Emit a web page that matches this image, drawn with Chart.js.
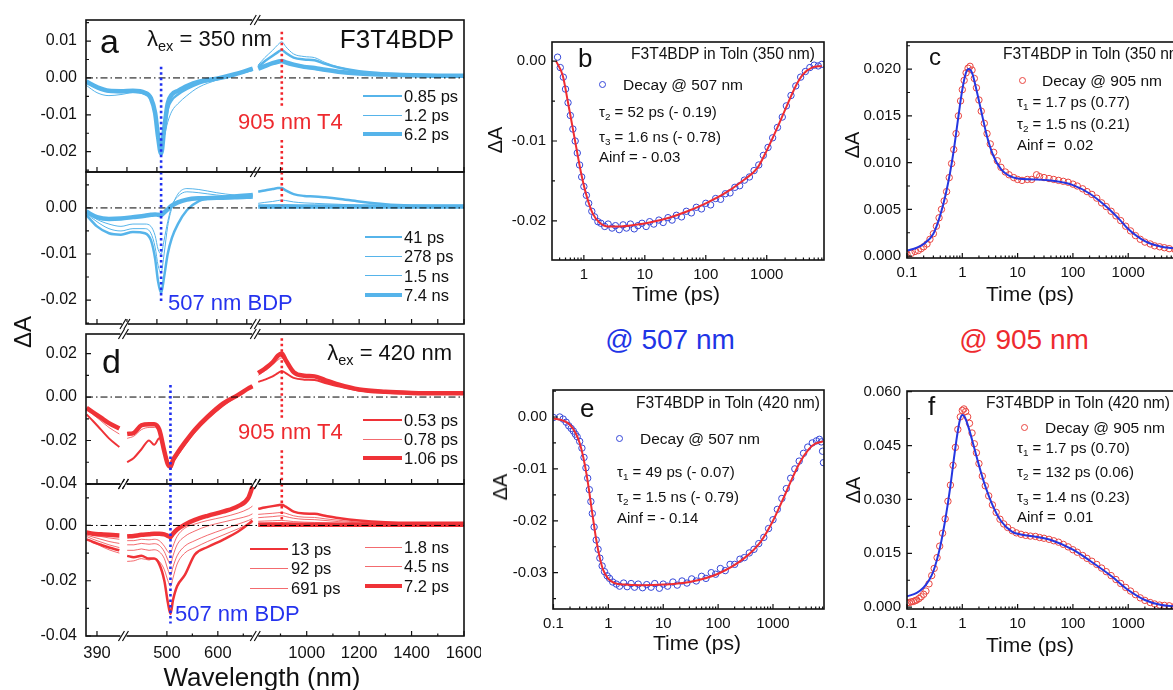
<!DOCTYPE html>
<html>
<head>
<meta charset="utf-8">
<script src="https://cdn.jsdelivr.net/npm/chart.js"></script>
<style>
html, body { margin: 0; padding: 0; background: #fff; overflow: hidden; width: 1173px; height: 690px; }
body { position: relative; font-family: "Liberation Sans", Arial, sans-serif; }
canvas { position: absolute; }
.t { position: absolute; white-space: nowrap; line-height: 1; color: #111; }
.s { font-size: 0.66em; position: relative; top: 0.32em; }
.k { position: absolute; }
.dot { position: absolute; width: 7px; height: 7px; border-radius: 50%; border: 1.2px solid; box-sizing: border-box; }
</style>
</head>
<body>
<script>
// ---- panel a / d: transient spectra (wavelength in nm, dA) ----
const waveA = [382, 400, 420, 440, 460, 480, 490, 497, 502, 507, 512, 518, 525, 535, 550, 570, 600, 630, 660, null,
    815, 840, 870, 890, 905, 920, 950, 990, 1030, 1070, 1120, 1200, 1300, 1400, 1500, 1600];
const a085ps = [-0.0012, -0.0025, -0.0036, -0.0038, -0.0036, -0.0042, -0.0055, -0.0090, -0.0150, -0.0190, -0.0150, -0.0085, -0.0060, -0.0045, -0.0030, -0.0015, -0.0003, 0.0010, 0.0022, null,
    0.0030, 0.0045, 0.0060, 0.0070, 0.0076, 0.0068, 0.0055, 0.0050, 0.0048, 0.0038, 0.0028, 0.0018, 0.0012, 0.0009, 0.0007, 0.0006];
const a12ps = [-0.0020, -0.0040, -0.0048, -0.0045, -0.0040, -0.0046, -0.0060, -0.0095, -0.0145, -0.0180, -0.0160, -0.0120, -0.0090, -0.0070, -0.0048, -0.0025, -0.0006, 0.0008, 0.0020, null,
    0.0035, 0.0055, 0.0075, 0.0090, 0.0098, 0.0085, 0.0065, 0.0058, 0.0055, 0.0042, 0.0030, 0.0018, 0.0012, 0.0009, 0.0007, 0.0006];
const a62ps = [-0.0010, -0.0025, -0.0035, -0.0036, -0.0035, -0.0040, -0.0055, -0.0095, -0.0160, -0.0205, -0.0140, -0.0070, -0.0045, -0.0035, -0.0022, -0.0010, -0.0002, 0.0010, 0.0025, null,
    0.0025, 0.0032, 0.0040, 0.0044, 0.0046, 0.0042, 0.0036, 0.0030, 0.0027, 0.0022, 0.0017, 0.0012, 0.0009, 0.0007, 0.0006, 0.0006];
const a41ps = [-0.0015, -0.0040, -0.0055, -0.0058, -0.0052, -0.0055, -0.0070, -0.0110, -0.0160, -0.0185, -0.0150, -0.0100, -0.0065, -0.0035, -0.0005, 0.0015, 0.0022, 0.0027, 0.0030, null,
    0.0035, 0.0038, 0.0041, 0.0043, 0.0043, 0.0038, 0.0030, 0.0026, 0.0025, 0.0023, 0.0020, 0.0014, 0.0008, 0.0005, 0.0004, 0.0004];
const a278ps = [-0.0012, -0.0030, -0.0045, -0.0050, -0.0045, -0.0045, -0.0055, -0.0085, -0.0125, -0.0140, -0.0100, -0.0040, 0.0000, 0.0030, 0.0042, 0.0040, 0.0033, 0.0028, 0.0027, null,
    0.0010, 0.0012, 0.0014, 0.0016, 0.0017, 0.0016, 0.0013, 0.0011, 0.0010, 0.0009, 0.0008, 0.0006, 0.0005, 0.0004, 0.0003, 0.0003];
const a15ns = [-0.0010, -0.0025, -0.0035, -0.0040, -0.0035, -0.0035, -0.0040, -0.0060, -0.0090, -0.0100, -0.0070, -0.0030, 0.0005, 0.0025, 0.0035, 0.0033, 0.0028, 0.0025, 0.0025, null,
    0.0004, 0.0005, 0.0006, 0.0007, 0.0007, 0.0007, 0.0006, 0.0005, 0.0005, 0.0004, 0.0004, 0.0003, 0.0003, 0.0002, 0.0002, 0.0002];
const a74ns = [-0.0008, -0.0020, -0.0024, -0.0023, -0.0020, -0.0017, -0.0015, -0.0014, -0.0015, -0.0016, -0.0010, -0.0003, 0.0005, 0.0012, 0.0018, 0.0021, 0.0022, 0.0023, 0.0025, null,
    0.0003, 0.0003, 0.0003, 0.0003, 0.0003, 0.0003, 0.0003, 0.0003, 0.0003, 0.0003, 0.0003, 0.0003, 0.0003, 0.0003, 0.0003, 0.0003];

const waveD = [377, 385, 395, 405, 418, null,
    422, 435, 450, 465, 475, 485, 495, 502, 507, 512, 520, 535, 555, 580, 610, 640, 660, 668, null,
    815, 840, 870, 890, 905, 920, 950, 990, 1030, 1070, 1120, 1200, 1300, 1400, 1500, 1600];
const d053ps = [-0.008, -0.011, -0.015, -0.019, -0.023, null,
    -0.030, -0.028, -0.024, -0.020, -0.022, -0.019, -0.025, -0.030, -0.033, -0.030, -0.027, -0.022, -0.016, -0.010, -0.004, 0.001, 0.004, 0.005, null,
    0.007, 0.008, 0.0095, 0.0110, 0.0120, 0.0110, 0.0088, 0.0080, 0.0078, 0.0065, 0.0050, 0.0030, 0.0020, 0.0016, 0.0015, 0.0015];
const d078ps = [-0.006, -0.008, -0.011, -0.014, -0.017, null,
    -0.019, -0.018, -0.015, -0.014, -0.014, -0.016, -0.025, -0.030, -0.032, -0.029, -0.026, -0.021, -0.015, -0.009, -0.003, 0.001, 0.0035, 0.0045, null,
    0.010, 0.012, 0.015, 0.017, 0.018, 0.016, 0.011, 0.0095, 0.0092, 0.0075, 0.0055, 0.0033, 0.0022, 0.0018, 0.0016, 0.0016];
const d106ps = [-0.005, -0.007, -0.0095, -0.012, -0.0145, null,
    -0.017, -0.0165, -0.013, -0.0125, -0.0125, -0.015, -0.025, -0.031, -0.032, -0.029, -0.026, -0.021, -0.015, -0.009, -0.003, 0.001, 0.004, 0.005, null,
    0.011, 0.013, 0.016, 0.019, 0.020, 0.017, 0.0115, 0.0098, 0.0095, 0.0078, 0.0058, 0.0035, 0.0024, 0.0019, 0.0017, 0.0017];
const d13ps = [-0.005, -0.006, -0.007, -0.008, -0.009, null,
    -0.011, -0.0115, -0.011, -0.012, -0.012, -0.014, -0.020, -0.028, -0.032, -0.027, -0.022, -0.018, -0.0105, -0.0078, -0.0052, -0.0022, 0.0005, 0.0018, null,
    0.0060, 0.0065, 0.0070, 0.0073, 0.0075, 0.0068, 0.0050, 0.0043, 0.0042, 0.0035, 0.0027, 0.0018, 0.0012, 0.0010, 0.0010, 0.0010];
const d92ps = [-0.005, -0.0062, -0.0075, -0.0088, -0.0100, null,
    -0.0130, -0.0128, -0.0120, -0.0125, -0.0120, -0.0130, -0.0160, -0.0200, -0.0220, -0.0190, -0.0140, -0.0100, -0.0080, -0.0058, -0.0035, -0.0012, 0.0005, 0.0010, null,
    0.0040, 0.0042, 0.0044, 0.0046, 0.0047, 0.0044, 0.0035, 0.0030, 0.0029, 0.0024, 0.0019, 0.0012, 0.0008, 0.0007, 0.0007, 0.0007];
const d691ps = [-0.004, -0.005, -0.006, -0.007, -0.008, null,
    -0.0090, -0.0090, -0.0085, -0.0090, -0.0088, -0.0095, -0.0120, -0.0160, -0.0180, -0.0150, -0.0110, -0.0075, -0.0055, -0.0035, -0.0015, 0.0005, 0.0018, 0.0025, null,
    0.0028, 0.0030, 0.0032, 0.0034, 0.0035, 0.0032, 0.0026, 0.0022, 0.0021, 0.0018, 0.0014, 0.0009, 0.0006, 0.0005, 0.0005, 0.0005];
const d18ns = [-0.0035, -0.0042, -0.005, -0.0058, -0.0065, null,
    -0.0070, -0.0070, -0.0065, -0.0068, -0.0066, -0.0072, -0.0095, -0.0125, -0.0140, -0.0110, -0.0070, -0.0040, -0.0020, -0.0002, 0.0012, 0.0025, 0.0035, 0.0042, null,
    0.0015, 0.0016, 0.0017, 0.0018, 0.0018, 0.0017, 0.0014, 0.0012, 0.0011, 0.0010, 0.0008, 0.0005, 0.0004, 0.0003, 0.0003, 0.0003];
const d45ns = [-0.003, -0.0035, -0.004, -0.0045, -0.005, null,
    -0.0055, -0.0055, -0.0050, -0.0052, -0.0050, -0.0055, -0.0075, -0.0095, -0.0100, -0.0075, -0.0040, -0.0010, 0.0005, 0.0018, 0.0030, 0.0045, 0.0060, 0.0070, null,
    0.0008, 0.0009, 0.0010, 0.0010, 0.0010, 0.0010, 0.0008, 0.0007, 0.0007, 0.0006, 0.0005, 0.0004, 0.0003, 0.0003, 0.0003, 0.0003];
const d72 = [-0.0025, -0.003, -0.0032, -0.0034, -0.0036, null,
    -0.0040, -0.0038, -0.0034, -0.0032, -0.0030, -0.0030, -0.0032, -0.0038, -0.0042, -0.0030, -0.0015, 0.0003, 0.0020, 0.0035, 0.0050, 0.0070, 0.0100, 0.0140, null,
    0.0003, 0.0003, 0.0003, 0.0003, 0.0003, 0.0003, 0.0003, 0.0003, 0.0003, 0.0003, 0.0003, 0.0003, 0.0003, 0.0003, 0.0003, 0.0003];

const waveTicksA = [400, 450, 500, 550, 600, 650, 900, 1000, 1100, 1200, 1300, 1400, 1500, 1600];
const waveTicksD = [390, 500, 550, 600, 650, 900, 1000, 1100, 1200, 1300, 1400, 1500, 1600];
const waveLabelsD = ['390', '500', '', '600', '', '', '1000', '', '1200', '', '1400', '', '1600'];

// ---- panels b, c, e, f: kinetics (time in ps, dA) ----
const bTime = [0.37, 0.41, 0.46, 0.5, 0.55, 0.6, 0.66, 0.72, 0.78, 0.85, 0.92, 1.0, 1.1, 1.2, 1.35, 1.5, 1.7, 1.9, 2.2, 2.5,
    2.9, 3.3, 3.8, 4.4, 5, 5.8, 6.7, 7.7, 9, 10.5, 12, 14, 17, 20, 24, 28, 33, 40, 48, 58,
    70, 85, 100, 120, 145, 175, 210, 250, 300, 360, 430, 520, 620, 740, 880, 1050, 1250, 1500, 1800, 2100,
    2500, 3000, 3600, 4300, 5100, 6000, 7000, 8000];
const bDecay = [0.0005, -0.0008, -0.0020, -0.0035, -0.0052, -0.0068, -0.0085, -0.0100, -0.0115, -0.0130,
    -0.0145, -0.0157, -0.0168, -0.0178, -0.0188, -0.0195, -0.0201, -0.0203, -0.0207, -0.0204,
    -0.0209, -0.0206, -0.0211, -0.0205, -0.0209, -0.0204, -0.0210, -0.0206, -0.0203, -0.0207,
    -0.0201, -0.0204, -0.0199, -0.0202, -0.0196, -0.0199, -0.0193, -0.0195, -0.0188, -0.0190,
    -0.0183, -0.0185, -0.0178, -0.0180, -0.0172, -0.0173, -0.0166, -0.0165, -0.0158, -0.0156,
    -0.0149, -0.0145, -0.0137, -0.0130, -0.0118, -0.0108, -0.0096, -0.0083, -0.0070, -0.0056,
    -0.0043, -0.0031, -0.0020, -0.0013, -0.0008, -0.0005, -0.0006, -0.0004];
const bFitTime = [0.35, 0.45, 0.55, 0.65, 0.75, 0.9, 1.1, 1.4, 1.8, 2.5, 4, 7, 12, 25, 50, 100, 200, 400, 700, 1000, 1500, 2000, 3000, 4000, 5500, 8000];
const bFit = [0.0000, -0.0018, -0.0052, -0.0082, -0.0108, -0.0140, -0.0168, -0.0191, -0.0202, -0.0207, -0.0207, -0.0205, -0.0202,
    -0.0196, -0.0188, -0.0178, -0.0166, -0.0150, -0.0134, -0.0112, -0.0083, -0.0061, -0.0031, -0.0016, -0.0008, -0.0006];

const cTime = [0.1, 0.12, 0.14, 0.16, 0.18, 0.2, 0.23, 0.26, 0.3, 0.34, 0.38, 0.42, 0.47, 0.52, 0.58, 0.64, 0.7, 0.77, 0.85, 0.93,
    1.0, 1.08, 1.17, 1.27, 1.38, 1.5, 1.65, 1.8, 2.0, 2.2, 2.5, 2.8, 3.2, 3.7, 4.3, 5, 6, 7, 8.5, 10,
    12, 15, 18, 22, 25, 30, 37, 45, 55, 67, 82, 100, 120, 150, 180, 220, 270, 330, 400, 490,
    600, 730, 900, 1100, 1350, 1650, 2000, 2500, 3000, 3700, 4500, 5500, 7000];
const cDecay = [0.0002, 0.0003, 0.0005, 0.0006, 0.0008, 0.0010, 0.0013, 0.0018, 0.0024, 0.0032,
    0.0041, 0.0050, 0.0059, 0.0069, 0.0084, 0.0099, 0.0114, 0.0131, 0.0150, 0.0166,
    0.0178, 0.0188, 0.0196, 0.0201, 0.0203, 0.0199, 0.0190, 0.0180, 0.0167, 0.0155,
    0.0142, 0.0131, 0.0120, 0.0111, 0.0102, 0.0095, 0.0090, 0.0087, 0.0084, 0.0082,
    0.0081, 0.0082, 0.0082, 0.0087, 0.0085, 0.0084, 0.0083, 0.0082, 0.0081, 0.0080,
    0.0079, 0.0077, 0.0075, 0.0072, 0.0069, 0.0066, 0.0062, 0.0057, 0.0053, 0.0048,
    0.0043, 0.0038, 0.0032, 0.0027, 0.0022, 0.0018, 0.0015, 0.0013, 0.0011, 0.0010,
    0.0009, 0.0008, 0.0007];
const cFitTime = [0.1, 0.15, 0.2, 0.3, 0.4, 0.5, 0.6, 0.7, 0.8, 0.9, 1.0, 1.15, 1.3, 1.5, 1.8, 2.2, 2.8, 3.5, 5, 7, 10, 20, 50, 100, 200, 400, 700, 1000, 2000, 4000, 9000];
const cFit = [0.0006, 0.0009, 0.0013, 0.0024, 0.0044, 0.0066, 0.0089, 0.0113, 0.0138, 0.0160, 0.0178, 0.0195, 0.0200, 0.0196, 0.0178, 0.0155,
    0.0128, 0.0110, 0.0093, 0.0086, 0.0083, 0.0082, 0.0080, 0.0076, 0.0067, 0.0053, 0.0039, 0.0029, 0.0016, 0.0010, 0.0008];

const eTime = [0.1, 0.13, 0.15, 0.17, 0.19, 0.21, 0.23, 0.25, 0.27, 0.3, 0.33, 0.36, 0.39, 0.42, 0.45, 0.48, 0.51, 0.55, 0.6, 0.65,
    0.7, 0.77, 0.85, 0.95, 1.05, 1.2, 1.4, 1.6, 1.9, 2.2, 2.6, 3, 3.5, 4.2, 5, 6, 7, 8.5, 10, 12,
    15, 18, 22, 27, 33, 40, 50, 60, 75, 90, 110, 135, 165, 200, 250, 300, 370, 450, 550, 680,
    830, 1000, 1200, 1450, 1750, 2100, 2500, 3000, 3600, 4300, 5200, 6200, 7000, 7600, 8000, 8300];
const eDecay = [-0.0001, 0.0000, -0.0004, -0.0010, -0.0017, -0.0022, -0.0027, -0.0033, -0.0038, -0.0047,
    -0.0060, -0.0078, -0.0098, -0.0118, -0.0140, -0.0163, -0.0186, -0.0212, -0.0237, -0.0255,
    -0.0272, -0.0287, -0.0298, -0.0306, -0.0311, -0.0318, -0.0322, -0.0326, -0.0320, -0.0327,
    -0.0321, -0.0328, -0.0322, -0.0329, -0.0323, -0.0328, -0.0321, -0.0330, -0.0322, -0.0326,
    -0.0318, -0.0324, -0.0316, -0.0320, -0.0312, -0.0316, -0.0307, -0.0311, -0.0300, -0.0303,
    -0.0292, -0.0296, -0.0284, -0.0284, -0.0274, -0.0271, -0.0262, -0.0255, -0.0244, -0.0232,
    -0.0215, -0.0198, -0.0178, -0.0157, -0.0138, -0.0118, -0.0100, -0.0085, -0.0070, -0.0058,
    -0.0050, -0.0046, -0.0043, -0.0048, -0.0066, -0.0088];
const eFitTime = [0.1, 0.15, 0.2, 0.25, 0.3, 0.35, 0.4, 0.45, 0.5, 0.55, 0.6, 0.7, 0.8, 1, 1.3, 2, 4, 10, 30, 100, 300, 600, 1000, 1500, 2000, 3000, 4500, 6000, 8300];
const eFit = [-0.0003, -0.0007, -0.0015, -0.0030, -0.0050, -0.0078, -0.0110, -0.0145, -0.0180, -0.0210, -0.0236, -0.0272, -0.0294, -0.0312, -0.0320,
    -0.0323, -0.0324, -0.0323, -0.0318, -0.0302, -0.0272, -0.0240, -0.0200, -0.0160, -0.0130, -0.0090, -0.0062, -0.0051, -0.0047];

const fTime = [0.1, 0.11, 0.12, 0.13, 0.14, 0.15, 0.165, 0.18, 0.2, 0.22, 0.25, 0.28, 0.31, 0.35, 0.39, 0.44, 0.49, 0.55, 0.61, 0.68,
    0.75, 0.83, 0.92, 1.0, 1.07, 1.15, 1.25, 1.35, 1.5, 1.65, 1.8, 2.0, 2.3, 2.6, 3.0, 3.5, 4.1, 4.8, 5.6, 6.6,
    8, 9.5, 11.5, 14, 17, 21, 25, 30, 37, 45, 55, 67, 82, 100, 120, 150, 180, 220, 270, 330,
    400, 490, 600, 730, 900, 1100, 1350, 1650, 2000, 2500, 3000, 3700, 4500, 5500, 7000];
const fDecay = [0.0012, 0.0013, 0.0015, 0.0016, 0.0018, 0.0020, 0.0024, 0.0029, 0.0036, 0.0045,
    0.0065, 0.0088, 0.0108, 0.0138, 0.0170, 0.0206, 0.0246, 0.0295, 0.0340, 0.0395,
    0.0445, 0.0495, 0.0530, 0.0548, 0.0552, 0.0545, 0.0530, 0.0512, 0.0485, 0.0455,
    0.0430, 0.0400, 0.0365, 0.0338, 0.0310, 0.0285, 0.0264, 0.0245, 0.0232, 0.0222,
    0.0213, 0.0207, 0.0203, 0.0200, 0.0198, 0.0197, 0.0194, 0.0192, 0.0189, 0.0185,
    0.0181, 0.0175, 0.0168, 0.0160, 0.0153, 0.0144, 0.0136, 0.0128, 0.0119, 0.0109,
    0.0099, 0.0088, 0.0077, 0.0066, 0.0055, 0.0045, 0.0035, 0.0026, 0.0019, 0.0013,
    0.0009, 0.0006, 0.0005, 0.0004, 0.0003];
const fFitTime = [0.1, 0.15, 0.2, 0.25, 0.3, 0.4, 0.5, 0.6, 0.7, 0.8, 0.9, 1.0, 1.1, 1.3, 1.6, 2, 2.5, 3.5, 5, 8, 12, 20, 40, 100, 200, 500, 1000, 2000, 4000, 9000];
const fFit = [0.0030, 0.0040, 0.0055, 0.0075, 0.0100, 0.0170, 0.0250, 0.0330, 0.0410, 0.0475, 0.0520, 0.0535, 0.0530, 0.0500, 0.0450, 0.0395,
    0.0345, 0.0285, 0.0240, 0.0210, 0.0202, 0.0197, 0.0187, 0.0160, 0.0130, 0.0086, 0.0048, 0.0020, 0.0006, 0.0002];

const timeDecades = [0.1, 1, 10, 100, 1000];
const timeLabelsB = [1, 10, 100, 1000];
const timeLabels = [0.1, 1, 10, 100, 1000];

// ---- styling ----
Chart.defaults.font.family = '"Liberation Sans", Arial, sans-serif';
Chart.defaults.color = '#111';
const SKY = '#56b4ea', RED = '#ef3237', RED_T = 'rgba(239,50,55,0.72)';
const DOT_BLUE = '#2030f0', DOT_RED = '#f2262c';
const PT_BLUE = '#3446d8', PT_RED = '#e9443f';

// broken wavelength axes: axis unit ~ pixels from plot left
function mapA(w) { return w < 750 ? 11 + (w - 400) * 0.6 : 221 + (w - 1000) * 0.2625; }
function mapD(w) {
    if (w < 420) return 11 + (w - 390) * 0.8;
    if (w < 750) return 81 + (w - 500) * 0.51;
    return 221 + (w - 1000) * 0.2625;
}

function pts(xs, ys, map) {
    let last = 0;
    return xs.map((x, i) => {
        if (x === null) return { x: last, y: null };
        last = map ? map(x) : x;
        return { x: last, y: ys[i] };
    });
}

function fmt(v, d) {
    let s = v.toFixed(d);
    if (parseFloat(s) === 0) s = (0).toFixed(d);
    return s;
}

function withMinors(major, min, max) {
    const step = major[1] - major[0];
    const out = [];
    for (let v = major[0] - step; v <= max + 1e-9; v += step / 2) {
        if (v >= min - 1e-9) out.push({ value: v, big: major.some(m => Math.abs(m - v) < 1e-9) });
    }
    return out;
}

// frame, inward ticks, reference lines and axis breaks
function deco(cfg) {
    return {
        id: 'deco',
        afterDatasetsDraw(chart) {
            const ctx = chart.ctx, a = chart.chartArea, xs = chart.scales.x, ys = chart.scales.y;
            const w = a.right - a.left, h = a.bottom - a.top;
            ctx.save();
            ctx.beginPath(); ctx.rect(a.left, a.top, w, h); ctx.clip();
            if (cfg.zero) {
                const y0 = ys.getPixelForValue(0);
                ctx.setLineDash([7, 3, 1.5, 3]); ctx.lineWidth = 1; ctx.strokeStyle = '#000';
                ctx.beginPath(); ctx.moveTo(a.left, y0); ctx.lineTo(a.right, y0); ctx.stroke();
            }
            (cfg.vlines || []).forEach(v => {
                const x = xs.getPixelForValue(v.x);
                ctx.setLineDash([2.5, 3]); ctx.lineWidth = 2.6; ctx.strokeStyle = v.color;
                v.spans.forEach(sp => {
                    const y1 = sp[0] === null ? a.top : ys.getPixelForValue(sp[0]);
                    const y2 = sp[1] === null ? a.bottom : ys.getPixelForValue(sp[1]);
                    ctx.beginPath(); ctx.moveTo(x, y1); ctx.lineTo(x, y2); ctx.stroke();
                });
            });
            ctx.restore();

            ctx.save();
            ctx.strokeStyle = '#111'; ctx.lineWidth = 1.6;
            ctx.strokeRect(a.left, a.top, w, h);
            ctx.lineWidth = 1.2;
            ctx.beginPath();
            xs.ticks.forEach(t => {
                const p = xs.getPixelForValue(t.value);
                if (p < a.left - 0.5 || p > a.right + 0.5) return;
                const len = t.big ? 5 : 2.5;
                ctx.moveTo(p, a.bottom); ctx.lineTo(p, a.bottom - len);
            });
            ys.ticks.forEach(t => {
                const p = ys.getPixelForValue(t.value);
                const len = t.big ? 5 : 3;
                ctx.moveTo(a.left, p); ctx.lineTo(a.left + len, p);
            });
            ctx.stroke();
            (cfg.breaks || []).forEach(br => {
                const x = xs.getPixelForValue(br.x);
                br.edges.forEach(e => {
                    const y = e === 'top' ? a.top : a.bottom;
                    ctx.fillStyle = '#fff'; ctx.fillRect(x - 3, y - 2, 6, 4);
                    ctx.beginPath();
                    [-2, 2].forEach(o => { ctx.moveTo(x + o - 3, y + 5); ctx.lineTo(x + o + 3, y - 5); });
                    ctx.lineWidth = 1.2; ctx.stroke();
                });
            });
            ctx.restore();
        }
    };
}

function place(box, m, config) {
    const c = document.createElement('canvas');
    const w = m[3] + (box.r - box.l) + m[1];
    const h = m[0] + (box.b - box.t) + m[2];
    c.width = w; c.height = h;
    c.style.left = (box.l - m[3]) + 'px';
    c.style.top = (box.t - m[0]) + 'px';
    c.style.width = w + 'px'; c.style.height = h + 'px';
    document.body.appendChild(c);
    config.options.layout = { padding: { top: m[0], right: m[1], left: 0, bottom: 0 } };
    config.options.scales.x.afterFit = s => { s.height = m[2]; s.paddingLeft = 0; s.paddingRight = 0; };
    config.options.scales.y.afterFit = s => { s.width = m[3]; s.paddingTop = 0; s.paddingBottom = 0; };
    return new Chart(c, config);
}

function yAxis(min, max, major, digits, size, pad) {
    return {
        type: 'linear', min, max,
        grid: { display: false, drawTicks: false }, border: { display: false },
        afterBuildTicks: s => { s.ticks = withMinors(major, min, max); },
        ticks: {
            autoSkip: false, padding: pad, font: { size },
            callback: v => major.some(m => Math.abs(m - v) < 1e-9) ? fmt(v, digits) : ''
        }
    };
}

// ---- wavelength panels ----
function spectrum(box, m, map, wave, series, yr, yMajor, ticks, labels, cfg) {
    const showX = labels.some(l => l !== '');
    return place(box, m, {
        type: 'line',
        data: {
            datasets: series.map(s => ({
                data: pts(wave, s.v, map), borderColor: s.c, borderWidth: s.w,
                pointRadius: 0, spanGaps: false, cubicInterpolationMode: 'monotone'
            }))
        },
        options: {
            responsive: false, animation: false, events: [],
            plugins: { legend: { display: false }, tooltip: { enabled: false } },
            scales: {
                x: {
                    type: 'linear', min: 0, max: 378.5,
                    grid: { display: false, drawTicks: false }, border: { display: false },
                    afterBuildTicks: s => { s.ticks = ticks.map((w, i) => ({ value: map(w), big: !showX || labels[i] !== '' })); },
                    ticks: { display: showX, autoSkip: false, maxRotation: 0, padding: 8, font: { size: 16.5 }, callback: (v, i) => labels[i] }
                },
                y: yAxis(yr[0], yr[1], yMajor, 2, 16, 9)
            }
        },
        plugins: [deco(cfg)]
    });
}

const seriesA1 = [
    { name: '0.85 ps', v: a085ps, w: 2.5, c: SKY },
    { name: '1.2 ps', v: a12ps, w: 1, c: SKY },
    { name: '6.2 ps', v: a62ps, w: 4.5, c: SKY }
];
const seriesA2 = [
    { name: '41 ps', v: a41ps, w: 2.5, c: SKY },
    { name: '278 ps', v: a278ps, w: 1, c: SKY },
    { name: '1.5 ns', v: a15ns, w: 1, c: SKY },
    { name: '7.4 ns', v: a74ns, w: 4.5, c: SKY }
];
const seriesD1 = [
    { name: '0.53 ps', v: d053ps, w: 2, c: RED },
    { name: '0.78 ps', v: d078ps, w: 1, c: RED_T },
    { name: '1.06 ps', v: d106ps, w: 4.5, c: RED }
];
const seriesD2 = [
    { name: '13 ps', v: d13ps, w: 2.5, c: RED },
    { name: '92 ps', v: d92ps, w: 1, c: RED_T },
    { name: '691 ps', v: d691ps, w: 1, c: RED_T },
    { name: '1.8 ns', v: d18ns, w: 1, c: RED_T },
    { name: '4.5 ns', v: d45ns, w: 1, c: RED_T },
    { name: '7.2 ps', v: d72, w: 4.5, c: RED }
];

const noLabelsA = waveTicksA.map(() => '');
const noLabelsD = waveTicksD.map(() => '');

spectrum({ l: 86, r: 464, t: 20, b: 172 }, [16, 10, 6, 86], mapA, waveA, seriesA1,
    [-0.0255, 0.0157], [-0.02, -0.01, 0, 0.01], waveTicksA, noLabelsA, {
        zero: true,
        vlines: [{ x: mapA(507), color: DOT_BLUE, spans: [[0.003, null]] },
                 { x: mapA(905), color: DOT_RED, spans: [[0.0125, -0.0082], [-0.0168, null]] }],
        breaks: [{ x: 169.5, edges: ['top', 'bottom'] }]
    });
spectrum({ l: 86, r: 464, t: 172, b: 324 }, [6, 10, 8, 86], mapA, waveA, seriesA2,
    [-0.0252, 0.0078], [-0.02, -0.01, 0], waveTicksA, noLabelsA, {
        zero: true,
        vlines: [{ x: mapA(507), color: DOT_BLUE, spans: [[null, -0.0205]] },
                 { x: mapA(905), color: DOT_RED, spans: [[null, 0.0006]] }],
        breaks: [{ x: 39, edges: ['bottom'] }, { x: 169.5, edges: ['bottom'] }]
    });
spectrum({ l: 86, r: 464, t: 334, b: 484 }, [8, 10, 6, 86], mapD, waveD, seriesD1,
    [-0.04, 0.029], [-0.04, -0.02, 0, 0.02], waveTicksD, noLabelsD, {
        zero: true,
        vlines: [{ x: mapD(507), color: DOT_BLUE, spans: [[0.0055, null]] },
                 { x: mapD(905), color: DOT_RED, spans: [[0.027, -0.0097], [-0.0245, null]] }],
        breaks: [{ x: 37.5, edges: ['top', 'bottom'] }, { x: 169.5, edges: ['top', 'bottom'] }]
    });
spectrum({ l: 86, r: 464, t: 484, b: 636 }, [6, 17, 40, 86], mapD, waveD, seriesD2,
    [-0.04, 0.015], [-0.04, -0.02, 0], waveTicksD, waveLabelsD, {
        zero: true,
        vlines: [{ x: mapD(507), color: DOT_BLUE, spans: [[null, -0.0355]] },
                 { x: mapD(905), color: DOT_RED, spans: [[null, 0]] }],
        breaks: [{ x: 37.5, edges: ['top', 'bottom'] }, { x: 169.5, edges: ['top', 'bottom'] }]
    });

// ---- kinetic panels ----
function kinetics(box, xr, labels, yr, yMajor, digits, time, decay, fitTime, fit, ptColor, fitColor) {
    return place(box, [10, 10, 40, 70], {
        type: 'scatter',
        data: {
            datasets: [
                { data: pts(fitTime, fit), showLine: true, borderColor: fitColor, borderWidth: 2, pointRadius: 0, cubicInterpolationMode: 'monotone' },
                { data: pts(time, decay), showLine: false, pointRadius: 3.2, pointBorderWidth: 1, borderColor: ptColor, backgroundColor: 'rgba(0,0,0,0)' }
            ]
        },
        options: {
            responsive: false, animation: false, events: [],
            plugins: { legend: { display: false }, tooltip: { enabled: false } },
            scales: {
                x: {
                    type: 'logarithmic', min: xr[0], max: xr[1],
                    grid: { display: false, drawTicks: false }, border: { display: false },
                    afterBuildTicks: s => {
                        const t = [];
                        timeDecades.forEach(d => {
                            for (let k = 1; k < 10; k++) {
                                const v = d * k;
                                if (v >= xr[0] && v <= xr[1]) t.push({ value: v, big: k === 1 && labels.includes(d) });
                            }
                        });
                        s.ticks = t;
                    },
                    ticks: { autoSkip: false, maxRotation: 0, padding: 6, font: { size: 15 }, callback: v => labels.includes(v) ? String(v) : '' }
                },
                y: yAxis(yr[0], yr[1], yMajor, digits, 15, 6)
            }
        },
        plugins: [deco({})]
    });
}

kinetics({ l: 552, r: 824, t: 42, b: 260 }, [0.34, 8700], timeLabelsB, [-0.0249, 0.0024], [-0.02, -0.01, 0], 2,
    bTime, bDecay, bFitTime, bFit, PT_BLUE, '#ee2c32');
kinetics({ l: 907, r: 1181, t: 42, b: 258 }, [0.1, 9000], timeLabels, [-0.0002, 0.0229], [0, 0.005, 0.01, 0.015, 0.02], 3,
    cTime, cDecay, cFitTime, cFit, PT_RED, '#2536e0');
kinetics({ l: 553, r: 824, t: 390, b: 609 }, [0.098, 8500], timeLabels, [-0.037, 0.0052], [-0.03, -0.02, -0.01, 0], 2,
    eTime, eDecay, eFitTime, eFit, PT_BLUE, '#ee2c32');
kinetics({ l: 907, r: 1181, t: 391, b: 609 }, [0.1, 9000], timeLabels, [-0.0005, 0.0602], [0, 0.015, 0.03, 0.045, 0.06], 3,
    fTime, fDecay, fFitTime, fFit, PT_RED, '#2536e0');

// ---- text, legends ----
function txt(html, x, y, size, color, align) {
    const d = document.createElement('div');
    d.className = 't';
    d.innerHTML = html;
    d.style.fontSize = size + 'px';
    d.style.left = x + 'px';
    d.style.top = (y - 0.85 * size) + 'px';
    if (color) d.style.color = color;
    if (align === 'r') d.style.transform = 'translateX(-100%)';
    if (align === 'c') d.style.transform = 'translateX(-50%)';
    document.body.appendChild(d);
}
function vtxt(html, x, y, size) {
    const d = document.createElement('div');
    d.className = 't';
    d.innerHTML = html;
    d.style.fontSize = size + 'px';
    d.style.left = x + 'px';
    d.style.top = y + 'px';
    d.style.transform = 'translate(-50%,-50%) rotate(-90deg)';
    document.body.appendChild(d);
}
function key(x1, x2, y, s) {
    const d = document.createElement('div');
    d.className = 'k';
    d.style.left = x1 + 'px'; d.style.width = (x2 - x1) + 'px';
    d.style.top = (y - s.w / 2) + 'px'; d.style.height = s.w + 'px';
    d.style.background = s.c;
    document.body.appendChild(d);
}
function dot(x, y, color) {
    const d = document.createElement('div');
    d.className = 'dot';
    d.style.left = (x - 3.5) + 'px'; d.style.top = (y - 3.5) + 'px';
    d.style.borderColor = color;
    document.body.appendChild(d);
}

// left column
vtxt('&Delta;A', 23, 332, 24);
txt('Wavelength (nm)', 262, 686, 26, null, 'c');
txt('a', 100, 53, 34);
txt('&lambda;<span class="s">ex</span> = 350 nm', 147, 47, 22);
txt('F3T4BDP', 454, 48, 26, null, 'r');
txt('905 nm T4', 238, 130, 22, '#ee2a2f');
txt('507 nm BDP', 168, 311, 22, '#2533ee');
txt('d', 102, 373, 34);
txt('&lambda;<span class="s">ex</span> = 420 nm', 452, 361, 22, null, 'r');
txt('905 nm T4', 238, 440, 22, '#ee2a2f');
txt('507 nm BDP', 175, 622, 22, '#2533ee');

seriesA1.forEach((s, i) => { const y = 96 + i * 19; key(363, 402, y, s); txt(s.name, 404, y + 6, 16.5); });
seriesA2.forEach((s, i) => { const y = 237 + i * 19.3; key(365, 402, y, s); txt(s.name, 404, y + 6, 16.5); });
seriesD1.forEach((s, i) => { const y = 420 + i * 19; key(363, 402, y, s); txt(s.name, 404, y + 6, 16.5); });
seriesD2.forEach((s, i) => {
    const col = i < 3 ? 0 : 1, row = i % 3;
    const y = (col ? 547 : 549) + row * 19.5;
    if (col) { key(365, 402, y, s); txt(s.name, 404, y + 6, 16.5); }
    else { key(250, 288, y, s); txt(s.name, 291, y + 6, 16.5); }
});

// right columns
txt('@ 507 nm', 670, 350, 28, '#1f35e6', 'c');
txt('@ 905 nm', 1024, 350, 28, '#ee2a2f', 'c');

const tau = (n, rest) => '&tau;<span class="s">' + n + '</span> = ' + rest;

txt('b', 578, 67, 26);
txt('F3T4BDP in Toln (350 nm)', 815, 59, 15.6, null, 'r');
dot(602, 84, PT_BLUE); txt('Decay @ 507 nm', 623, 90, 15.5);
txt(tau(2, '52 ps (- 0.19)'), 599, 117, 15);
txt(tau(3, '1.6 ns (- 0.78)'), 599, 142, 15);
txt('Ainf = - 0.03', 599, 162, 15);
vtxt('&Delta;A', 495, 140, 20);
txt('Time (ps)', 676, 301, 21, null, 'c');

txt('c', 929, 65, 24);
txt('F3T4BDP in Toln (350 nm)', 1003, 59, 15.6);
dot(1022, 80, PT_RED); txt('Decay @ 905 nm', 1042, 86, 15.5);
txt(tau(1, '1.7 ps (0.77)'), 1017, 107, 15);
txt(tau(2, '1.5 ns (0.21)'), 1017, 129, 15);
txt('Ainf =&nbsp; 0.02', 1017, 150, 15);
vtxt('&Delta;A', 852, 145, 20);
txt('Time (ps)', 1030, 301, 21, null, 'c');

txt('e', 580, 417, 26);
txt('F3T4BDP in Toln (420 nm)', 820, 408, 15.6, null, 'r');
dot(619, 438, PT_BLUE); txt('Decay @ 507 nm', 640, 444, 15.5);
txt(tau(1, '49 ps (- 0.07)'), 617, 477, 15);
txt(tau(2, '1.5 ns (- 0.79)'), 617, 502, 15);
txt('Ainf = - 0.14', 617, 523, 15);
vtxt('&Delta;A', 500, 487, 20);
txt('Time (ps)', 697, 650, 21, null, 'c');

txt('f', 928, 415, 26);
txt('F3T4BDP in Toln (420 nm)', 986, 408, 15.6);
dot(1024, 427, PT_RED); txt('Decay @ 905 nm', 1045, 433, 15.5);
txt(tau(1, '1.7 ps (0.70)'), 1017, 453, 15);
txt(tau(2, '132 ps (0.06)'), 1017, 477, 15);
txt(tau(3, '1.4 ns (0.23)'), 1017, 502, 15);
txt('Ainf =&nbsp; 0.01', 1017, 522, 15);
vtxt('&Delta;A', 853, 490, 20);
txt('Time (ps)', 1030, 652, 21, null, 'c');
</script>
</body>
</html>
